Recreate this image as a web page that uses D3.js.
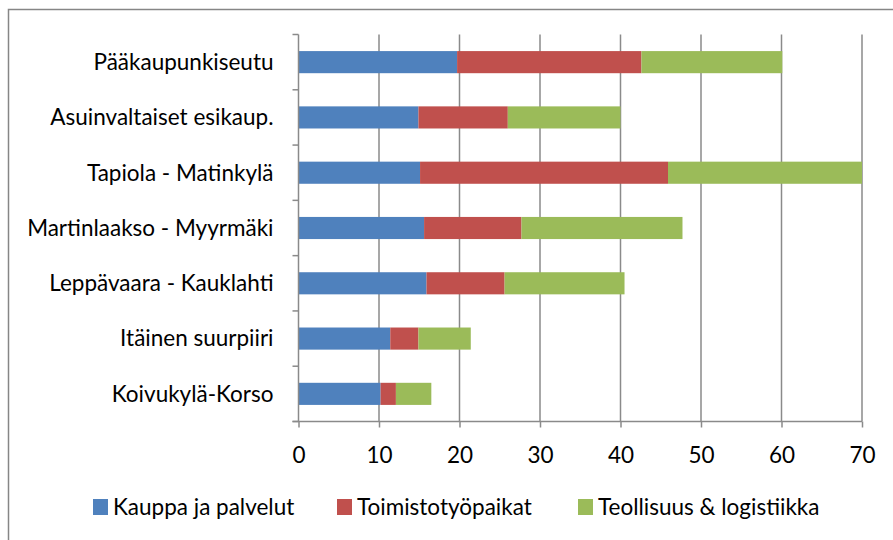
<!DOCTYPE html>
<html>
<head>
<meta charset="utf-8">
<script src="https://cdn.jsdelivr.net/npm/d3@7"></script>
<style>
  html, body { margin: 0; padding: 0; background: #fff; }
  svg { display: block; }
  text { font-family: Lato, "Liberation Sans", sans-serif; fill: #000; }
</style>
</head>
<body>
<svg id="chart" width="893" height="540"></svg>
<script>
// Alueet (ylhäältä alas)
const categories = [
  "Pääkaupunkiseutu",
  "Asuinvaltaiset esikaup.",
  "Tapiola - Matinkylä",
  "Martinlaakso - Myyrmäki",
  "Leppävaara - Kauklahti",
  "Itäinen suurpiiri",
  "Koivukylä-Korso"
];
const seriesNames = ["Kauppa ja palvelut", "Toimistotyöpaikat", "Teollisuus & logistiikka"];
const kauppa     = [19.7, 14.9, 15.1, 15.6, 15.9, 11.4, 10.2];
const toimisto   = [22.9, 11.1, 30.8, 12.1,  9.7,  3.5,  1.9];
const teollisuus = [17.5, 14.0, 24.1, 20.0, 14.9,  6.5,  4.4];
const xTicks = [0, 10, 20, 30, 40, 50, 60, 70];
const colors = ["#4F81BD", "#C0504D", "#9BBB59"];

const rows = categories.map((c, i) => ({
  cat: c, k: kauppa[i], t: toimisto[i], l: teollisuus[i]
}));
const stack = d3.stack().keys(["k", "t", "l"])(rows);

const svg = d3.select("#chart");
const plotL = 298.5, plotR = 862, plotT = 34.5, plotB = 421.5;
const fontSize = "22.5px";

const x = d3.scaleLinear().domain([0, 70]).range([plotL, plotR]);
const y = d3.scaleBand().domain(categories).range([plotT, plotB])
  .paddingInner(0.6).paddingOuter(0.3);

// chart area frame
svg.append("rect")
  .attr("x", 8.5).attr("y", 9.5).attr("width", 900).attr("height", 560)
  .attr("fill", "none").attr("stroke", "#868686").attr("stroke-width", 1.5);

// vertical gridlines
svg.append("g").selectAll("line").data(xTicks.slice(1)).join("line")
  .attr("x1", d => x(d)).attr("x2", d => x(d))
  .attr("y1", plotT).attr("y2", plotB)
  .attr("stroke", "#8a8a8a").attr("stroke-width", 1.5);

// stacked bars
svg.append("g").selectAll("g").data(stack).join("g")
  .attr("fill", (d, i) => colors[i])
  .selectAll("rect").data(d => d).join("rect")
  .attr("x", d => x(d[0]))
  .attr("width", d => x(d[1]) - x(d[0]))
  .attr("y", d => y(d.data.cat))
  .attr("height", y.bandwidth());

// x axis
const xAxis = d3.axisBottom(x).tickValues(xTicks).tickSize(6).tickSizeOuter(0).tickPadding(20);
const gx = svg.append("g").attr("transform", `translate(0,${plotB})`).call(xAxis);
gx.select(".domain").attr("stroke", "#8a8a8a").attr("stroke-width", 1.5)
  .attr("d", `M${plotL - 6},0H${plotR}`);
gx.selectAll(".tick line").attr("stroke", "#8a8a8a").attr("stroke-width", 1.5);
gx.selectAll(".tick text").style("font-size", fontSize).style("font-family", "Lato, sans-serif");

// y axis: boundary ticks between categories
const yAxisG = svg.append("g");
yAxisG.append("line").attr("x1", plotL).attr("x2", plotL).attr("y1", plotT).attr("y2", plotB)
  .attr("stroke", "#8a8a8a").attr("stroke-width", 1.5);
const bounds = d3.range(categories.length + 1).map(i => plotT + i * (plotB - plotT) / categories.length);
yAxisG.selectAll("line.tk").data(bounds).join("line").attr("class", "tk")
  .attr("x1", plotL - 6).attr("x2", plotL).attr("y1", d => d).attr("y2", d => d)
  .attr("stroke", "#8a8a8a").attr("stroke-width", 1.5);
yAxisG.selectAll("text").data(categories).join("text")
  .attr("x", plotL - 25)
  .attr("y", d => y(d) + y.bandwidth() / 2)
  .attr("dy", "0.35em")
  .attr("text-anchor", "end")
  .style("font-size", fontSize)
  .text(d => d);

// legend
const legendX = [93, 337, 578];
const lg = svg.append("g").selectAll("g").data(seriesNames).join("g")
  .attr("transform", (d, i) => `translate(${legendX[i]},499)`);
lg.append("rect").attr("width", 15).attr("height", 16).attr("fill", (d, i) => colors[i]);
lg.append("text").attr("x", 20).attr("y", 8).attr("dy", "0.36em")
  .style("font-size", fontSize).text(d => d);
</script>
</body>
</html>
